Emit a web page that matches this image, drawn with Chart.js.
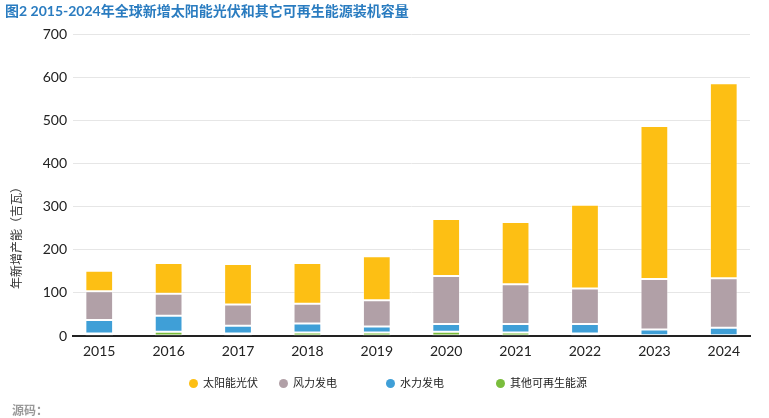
<!DOCTYPE html>
<html>
<head>
<meta charset="utf-8">
<script src="https://cdn.jsdelivr.net/npm/chart.js@4.4.1/dist/chart.umd.min.js"></script>
<style>
  body { margin: 0; background: #fff; font-family: Lato, "Noto Sans CJK SC", sans-serif; }
  #wrap { position: relative; width: 769px; height: 418px; }
  #title { position: absolute; left: 5px; top: 0px; font-size: 14px; font-weight: bold; color: #2a7cc0; white-space: nowrap; }
  #ytitle { position: absolute; left: 15px; top: 235px; transform: translate(-50%, -50%) rotate(-90deg); font-size: 12px; color: #333; white-space: nowrap; }
  .lg { position: absolute; top: 376px; font-size: 11px; color: #222; white-space: nowrap; line-height: 14px; }
  .lg span { display: inline-block; width: 9px; height: 9px; border-radius: 50%; margin-right: 5px; vertical-align: -1px; }
  #src { position: absolute; left: 12px; top: 401px; font-size: 12px; font-weight: bold; color: #999; }
</style>
</head>
<body>
<div id="wrap">
  <canvas id="chart" width="769" height="418"></canvas>
  <div id="title">图2 2015-2024年全球新增太阳能光伏和其它可再生能源装机容量</div>
  <div id="ytitle">年新增产能（吉瓦）</div>
  <div id="legend"></div>
  <div id="src">源码：</div>
</div>
<script>
// values in GW
var years = [2015, 2016, 2017, 2018, 2019, 2020, 2021, 2022, 2023, 2024];
var solar = [47, 71, 94, 94, 102, 132, 144, 194, 355, 452];
var wind  = [67, 51, 49, 46, 61, 111, 92, 82, 117, 115];
var hydro = [31, 37, 18, 21, 14, 18, 20, 22, 13, 17];
var other = [6, 10, 6, 8, 8, 10, 8, 6, 2, 2];
var yTicks = [0, 100, 200, 300, 400, 500, 600, 700];

var series = [
    { label: '其他可再生能源', data: other, color: '#7abd3c' },
    { label: '水力发电', data: hydro, color: '#3f9fd7' },
    { label: '风力发电', data: wind, color: '#b1a0a7' },
    { label: '太阳能光伏', data: solar, color: '#fdbf14' }
];

function toPoints(arr) {
    return arr.map(function (v, i) { return { x: years[i], y: v }; });
}

var datasets = series.map(function (s) {
    return {
        label: s.label,
        data: toPoints(s.data),
        backgroundColor: s.color,
        borderColor: 'rgba(255,255,255,0.45)',
        borderWidth: 1,
        borderSkipped: false,
        barPercentage: 0.4,
        categoryPercentage: 1.0
    };
});

// legend, drawn in the order of the picture
var legendX = [189, 279, 386, 496];
var legendOrder = [3, 2, 1, 0];
var legendEl = document.getElementById('legend');
legendOrder.forEach(function (idx, k) {
    var item = document.createElement('div');
    item.className = 'lg';
    item.style.left = legendX[k] + 'px';
    item.innerHTML = '<span style="background:' + series[idx].color + '"></span>' + series[idx].label;
    legendEl.appendChild(item);
});

var font = { family: 'Lato, "Noto Sans CJK SC", sans-serif', size: 14 };

new Chart(document.getElementById('chart'), {
    type: 'bar',
    data: { datasets: datasets },
    options: {
        responsive: false,
        animation: false,
        layout: { padding: { top: 34, right: 19, left: 0, bottom: 0 } },
        plugins: {
            legend: { display: false },
            title: { display: false },
            tooltip: { enabled: false }
        },
        scales: {
            x: {
                type: 'linear',
                stacked: true,
                offset: false,
                min: years[0] - 0.378,
                max: years[years.length - 1] + 0.378,
                afterBuildTicks: function (scale) {
                    scale.ticks = years.map(function (y) { return { value: y }; });
                },
                afterFit: function (scale) { scale.height = 82; },
                grid: { display: false, drawTicks: false },
                border: { display: true, color: '#222', width: 2 },
                ticks: {
                    color: '#222',
                    font: font,
                    padding: 7,
                    autoSkip: false,
                    maxRotation: 0,
                    callback: function (v) { return String(v); }
                }
            },
            y: {
                stacked: true,
                min: 0,
                max: 700,
                afterBuildTicks: function (scale) {
                    scale.ticks = yTicks.map(function (v) { return { value: v }; });
                },
                afterFit: function (scale) { scale.width = 73; },
                grid: { color: '#e6e6e6', lineWidth: 1, drawTicks: false },
                border: { display: false },
                ticks: { color: '#222', font: font, padding: 6 }
            }
        }
    }
});
</script>
</body>
</html>
